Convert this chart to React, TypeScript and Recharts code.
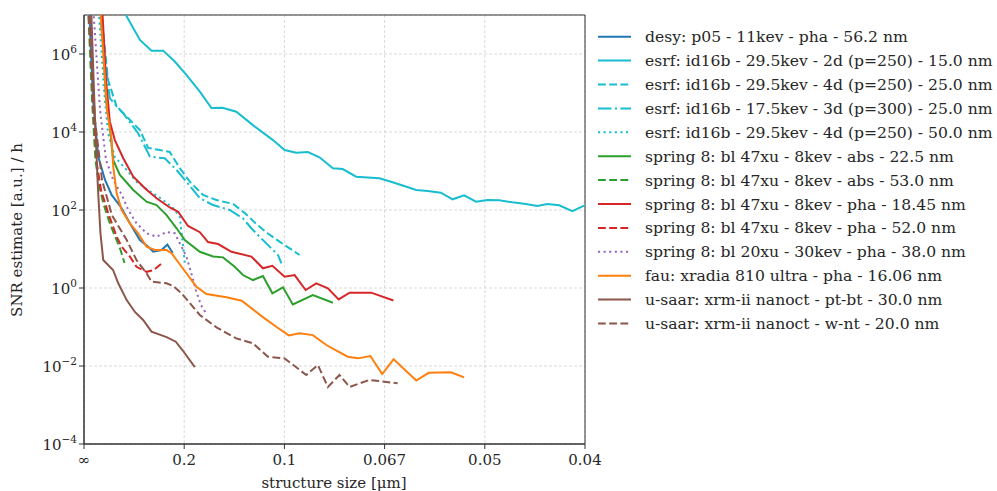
import { LineChart, Line, XAxis, YAxis, CartesianGrid, ReferenceArea } from 'recharts';

type Pt = [number, number];

// x = spatial frequency (1/structure size, µm⁻¹), y = SNR estimate per hour
const desyP05: Pt[] = [[0.25, 1.8e7], [0.45, 6.6e4], [0.71, 2330], [1.05, 587], [1.38, 243], [1.88, 111], [2.29, 45.6], [2.54, 27.8], [2.79, 17], [3.2, 11.5], [3.45, 8.5], [3.87, 9.4], [4.16, 13], [4.43, 7.9]];
const esrf2d: Pt[] = [[1.51, 3.5e7], [2.09, 1.0e7], [2.79, 2.3e6], [3.37, 1.22e6], [3.95, 1.22e6], [4.53, 6.4e5], [5.11, 2.9e5], [5.78, 1.08e5], [6.36, 4.1e4], [6.91, 4.2e4], [7.6, 3.3e4], [8.43, 1.5e4], [9.43, 6200], [10.01, 3450], [10.59, 2950], [11.17, 3070], [11.75, 2240], [12.42, 1170], [12.91, 1120], [13.58, 714], [14.74, 650], [15.32, 532], [15.98, 412], [16.57, 326], [17.15, 307], [17.81, 278], [18.39, 188], [18.97, 238], [19.56, 163], [20.13, 180], [20.72, 177], [21.38, 157], [22.05, 143], [22.62, 127], [23.12, 143], [23.71, 132], [24.37, 93], [24.95, 129]];
const esrf4d25: Pt[] = [[0.8, 2.4e7], [1.2, 2.15e5], [1.63, 4.46e4], [2.13, 2.47e4], [2.79, 1.12e4], [3.2, 3900], [3.78, 3450], [4.28, 3070], [4.78, 1190], [5.28, 532], [5.94, 243], [6.61, 180], [7.44, 143], [8.02, 84], [8.6, 43.8], [9.16, 25.3], [9.76, 15.4], [10.26, 10.4], [10.76, 7.0]];
const esrf3d25: Pt[] = [[0.7, 2.4e7], [1.29, 7.3e4], [1.96, 3.0e4], [2.7, 9300], [3.29, 2330], [4.03, 2120], [4.62, 1060], [5.11, 532], [5.78, 200], [6.44, 134], [7.27, 100], [7.93, 61], [8.35, 34], [8.76, 20.7], [9.26, 11.5], [9.68, 7.0], [9.85, 4.3]];
const esrf4d50: Pt[] = [[0.7, 2.4e7], [1.0, 1.2e5], [1.2, 9400], [1.54, 2290], [2.13, 1060], [2.62, 532], [3.2, 326], [3.95, 180], [4.45, 111], [4.78, 67], [4.91, 17], [5.03, 4.4]];
const sp47abs22: Pt[] = [[0.85, 1.8e7], [1.1, 6.6e4], [1.29, 1.34e4], [1.46, 1900], [1.79, 789], [2.46, 326], [3.12, 163], [3.62, 134], [4.12, 74], [4.62, 34], [5.03, 17], [5.78, 8.5], [6.44, 6.4], [6.94, 6.1], [7.52, 3.5], [7.93, 2.15], [8.43, 1.6], [8.93, 2.03], [9.4, 0.73], [9.93, 1.04], [10.42, 0.38], [11.42, 0.66], [12.42, 0.42]];
const sp47abs53: Pt[] = [[0.2, 1.8e7], [0.4, 6.6e4], [0.57, 1900], [0.75, 438], [0.96, 151], [1.25, 52], [1.54, 21.5], [1.79, 10.6], [2.02, 4.4]];
const sp47pha18: Pt[] = [[0.9, 1.8e7], [1.1, 2.15e5], [1.29, 1.84e4], [1.54, 6200], [1.96, 2120], [2.46, 714], [3.04, 360], [3.62, 200], [4.28, 116], [4.7, 90], [5.19, 39], [5.78, 27], [6.19, 15.1], [6.69, 13.4], [7.36, 8.5], [8.35, 6.4], [8.93, 3.2], [9.4, 3.7], [10.01, 1.95], [10.51, 2.15], [11.06, 0.89], [11.59, 1.32], [12.17, 0.98], [12.71, 0.51], [13.25, 0.76], [14.33, 0.76], [15.44, 0.48]];
const sp47pha52: Pt[] = [[0.25, 1.8e7], [0.45, 6.6e4], [0.65, 1430], [0.85, 326], [1.21, 82], [1.63, 20.7], [1.88, 11.5], [2.29, 6.4], [2.62, 3.5], [3.12, 2.6], [3.49, 2.9], [3.95, 4.6]];
const sp20pha38: Pt[] = [[0.45, 1.8e7], [0.8, 3.7e4], [1.1, 1900], [1.46, 587], [1.89, 243], [2.21, 100], [2.62, 45.6], [3.12, 25.3], [3.62, 20.7], [4.13, 27.3], [4.53, 25.3], [4.78, 14], [5.11, 6.4], [5.38, 2.15], [5.58, 0.89], [5.83, 0.37], [6.08, 0.23]];
const fauXradia: Pt[] = [[0.8, 1.8e7], [1.15, 3.7e4], [1.38, 6200], [1.46, 1290], [1.63, 268], [1.88, 100], [2.29, 45.6], [2.7, 25.3], [3.12, 11.5], [3.54, 9.4], [4.12, 9.4], [4.37, 7.8], [4.87, 3.5], [5.61, 1.08], [6.11, 0.7], [7.11, 0.58], [7.87, 0.47], [8.86, 0.19], [9.61, 0.1], [10.22, 0.061], [10.76, 0.069], [11.42, 0.062], [12.09, 0.0345], [13.16, 0.0173], [13.66, 0.0157], [14.29, 0.018], [14.88, 0.0062], [15.45, 0.0149], [16.58, 0.00425], [17.2, 0.0067], [18.31, 0.0069], [18.97, 0.0051]];
const usaarPtBt: Pt[] = [[0.35, 1.8e7], [0.55, 2.0e4], [0.7, 326], [0.82, 25.7], [0.96, 5.2], [1.45, 2.9], [1.71, 1.32], [2.13, 0.49], [2.54, 0.243], [2.95, 0.151], [3.37, 0.076], [4.12, 0.055], [4.58, 0.042], [4.91, 0.0257], [5.53, 0.0094]];
const usaarWnt: Pt[] = [[0.2, 1.8e7], [0.55, 2.0e4], [0.9, 587], [1.39, 74], [2.13, 17], [2.62, 5.2], [3.12, 2.38], [3.37, 1.45], [4.12, 1.32], [4.45, 1.12], [4.87, 0.73], [5.28, 0.41], [5.78, 0.203], [6.61, 0.098], [7.6, 0.051], [8.43, 0.038], [9.18, 0.0173], [10.01, 0.0157], [11.09, 0.0059], [11.67, 0.0106], [12.17, 0.0029], [12.75, 0.0059], [13.25, 0.0029], [14.24, 0.0044], [15.65, 0.0036]];

const xTicks = [0, 5, 10, 15, 20, 25];
const xTickLabels = ['∞', '0.2', '0.1', '0.067', '0.05', '0.04'];
const yTicks = [1e-4, 1e-2, 1, 1e2, 1e4, 1e6];
const yTickExps = ['−4', '−2', '0', '2', '4', '6'];

const SOLID = undefined;
const DASHED = '7.8 3.4';
const DOTTED = '2.1 3.5';
const DASHDOT = '13.5 3.4 2.1 3.4';

const series = [
  { name: 'desy: p05 - 11kev - pha - 56.2 nm', color: '#1f77b4', dash: SOLID, pts: desyP05 },
  { name: 'esrf: id16b - 29.5kev - 2d (p=250) - 15.0 nm', color: '#17becf', dash: SOLID, pts: esrf2d },
  { name: 'esrf: id16b - 29.5kev - 4d (p=250) - 25.0 nm', color: '#17becf', dash: DASHED, pts: esrf4d25 },
  { name: 'esrf: id16b - 17.5kev - 3d (p=300) - 25.0 nm', color: '#17becf', dash: DASHDOT, pts: esrf3d25 },
  { name: 'esrf: id16b - 29.5kev - 4d (p=250) - 50.0 nm', color: '#17becf', dash: DOTTED, pts: esrf4d50 },
  { name: 'spring 8: bl 47xu - 8kev - abs - 22.5 nm', color: '#2ca02c', dash: SOLID, pts: sp47abs22 },
  { name: 'spring 8: bl 47xu - 8kev - abs - 53.0 nm', color: '#2ca02c', dash: DASHED, pts: sp47abs53 },
  { name: 'spring 8: bl 47xu - 8kev - pha - 18.45 nm', color: '#d62728', dash: SOLID, pts: sp47pha18 },
  { name: 'spring 8: bl 47xu - 8kev - pha - 52.0 nm', color: '#d62728', dash: DASHED, pts: sp47pha52 },
  { name: 'spring 8: bl 20xu - 30kev - pha - 38.0 nm', color: '#9467bd', dash: DOTTED, pts: sp20pha38 },
  { name: 'fau: xradia 810 ultra - pha - 16.06 nm', color: '#ff7f0e', dash: SOLID, pts: fauXradia },
  { name: 'u-saar: xrm-ii nanoct - pt-bt - 30.0 nm', color: '#8c564b', dash: SOLID, pts: usaarPtBt },
  { name: 'u-saar: xrm-ii nanoct - w-nt - 20.0 nm', color: '#8c564b', dash: DASHED, pts: usaarWnt },
];

const FONT = 'DejaVu Serif, Liberation Serif, serif';
const TEXT = '#262626';
const FRAME = '#333333';

function XTick({ x, y, payload }: any) {
  const i = xTicks.indexOf(payload.value);
  return (
    <text x={x} y={y} dy={14} textAnchor="middle" fontSize={15} fontFamily={FONT} fill={TEXT}>
      {xTickLabels[i]}
    </text>
  );
}

function YTick({ x, y, payload }: any) {
  const i = yTicks.indexOf(payload.value);
  return (
    <text x={x} y={y} dy={6} textAnchor="end" fontSize={15} fontFamily={FONT} fill={TEXT}>
      <tspan>10</tspan>
      <tspan dy={-7} fontSize={10.5}>{yTickExps[i]}</tspan>
    </text>
  );
}

function XTitle() {
  return (
    <text x={334} y={488} textAnchor="middle" fontSize={15} fontFamily={FONT} fill={TEXT}>
      structure size [μm]
    </text>
  );
}

function YTitle() {
  return (
    <text x={22} y={230} transform="rotate(-90 22 230)" textAnchor="middle" fontSize={15} fontFamily={FONT} fill={TEXT}>
      SNR estimate [a.u.] / h
    </text>
  );
}

function LegendBox() {
  return (
    <svg width={407} height={340} style={{ position: 'absolute', left: 590, top: 0 }}>
      {series.map((s, i) => {
        const cy = 36.7 + 23.9 * i;
        return (
          <g key={s.name}>
            <line x1={8} x2={41} y1={cy} y2={cy} stroke={s.color} strokeWidth={2} strokeDasharray={s.dash} />
            <text x={55} y={cy} dy={5.5} fontSize={15.6} fontFamily={FONT} fill={TEXT}>{s.name}</text>
          </g>
        );
      })}
    </svg>
  );
}

export default function App() {
  return (
    <div style={{ position: 'absolute', left: 0, top: 0, width: 997, height: 491, background: '#fff' }}>
      <LineChart width={625} height={491} margin={{ top: 15, right: 40, bottom: 17, left: 14 }} style={{ overflow: 'visible' }}>
        <CartesianGrid stroke="#cfcfcf" strokeDasharray="3 2" strokeWidth={0.8} />
        <XAxis
          dataKey="f"
          type="number"
          domain={[0, 25]}
          ticks={xTicks}
          allowDataOverflow
          height={30}
          tickSize={5}
          tick={<XTick />}
          tickLine={{ stroke: FRAME }}
          axisLine={{ stroke: FRAME }}
          label={<XTitle />}
        />
        <YAxis
          type="number"
          scale="log"
          domain={[1e-4, 1e7]}
          ticks={yTicks}
          allowDataOverflow
          width={70}
          tickSize={5}
          tick={<YTick />}
          tickLine={{ stroke: FRAME }}
          axisLine={{ stroke: FRAME }}
          label={<YTitle />}
        />
        {series.map((s) => (
          <Line
            key={s.name}
            name={s.name}
            data={s.pts.map(([f, v]) => ({ f, v }))}
            dataKey="v"
            type="linear"
            stroke={s.color}
            strokeWidth={2}
            strokeDasharray={s.dash}
            dot={false}
            activeDot={false}
            isAnimationActive={false}
          />
        ))}
        <ReferenceArea x1={0} x2={25} y1={1e-4} y2={1e7} fill="none" stroke={FRAME} strokeWidth={1} ifOverflow="visible" />
      </LineChart>
      <LegendBox />
    </div>
  );
}
